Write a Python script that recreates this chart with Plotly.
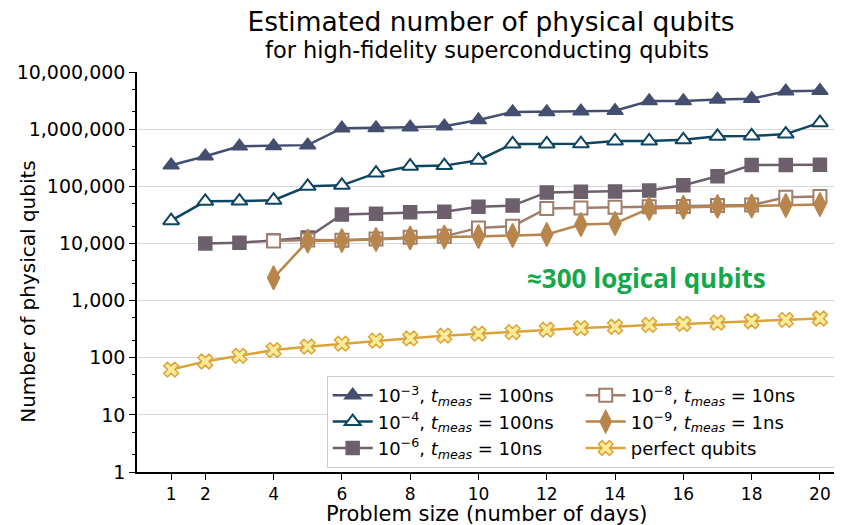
import plotly.graph_objects as go
import math

days = list(range(1, 21))

e3_100ns = [234000, 336000, 500000, 505000, 525000, 1040000, 1050000, 1080000, 1120000, 1440000,
            2000000, 2000000, 2050000, 2100000, 3100000, 3100000, 3300000, 3400000, 4600000, 4700000]
e4_100ns = [25000, 54600, 55000, 57000, 100000, 104000, 170000, 225000, 230000, 286000,
            550000, 550000, 555000, 620000, 620000, 650000, 750000, 760000, 820000, 1300000]
days_e6 = list(range(2, 21))
e6_10ns = [10000, 10300, 11300, 12700, 32000, 33000, 35000, 36000, 44000, 46000,
           78000, 80000, 81000, 84000, 104000, 150000, 235000, 235000, 237000]
days_e8 = list(range(4, 21))
e8_10ns = [11000, 11500, 11400, 12000, 12800, 13300, 18700, 20000, 41000, 41500,
           43000, 44000, 44500, 46000, 47000, 64000, 66000]
e9_1ns = [2500, 11000, 11200, 11700, 12500, 13000, 13200, 13800, 14300, 21500,
          22400, 41000, 43000, 44500, 45000, 46000, 48000]
perfect = [62, 86, 108, 136, 156, 176, 199, 218, 243, 264,
           280, 310, 330, 348, 375, 390, 410, 435, 460, 485]

ytick_vals = [1, 10, 100, 1000, 10000, 100000, 1000000, 10000000]
ytick_text = ["1", "10", "100", "1,000", "10,000", "100,000", "1,000,000", "10,000,000"]
xtick_vals = [1, 2, 4, 6, 8, 10, 12, 14, 16, 18, 20]

names = [
    "10<sup>−3</sup>, <i>t</i><sub><i>meas</i></sub> = 100ns",
    "10<sup>−4</sup>, <i>t</i><sub><i>meas</i></sub> = 100ns",
    "10<sup>−6</sup>, <i>t</i><sub><i>meas</i></sub> = 10ns",
    "10<sup>−8</sup>, <i>t</i><sub><i>meas</i></sub> = 10ns",
    "10<sup>−9</sup>, <i>t</i><sub><i>meas</i></sub> = 1ns",
    "perfect qubits",
]

fig = go.Figure()

def add(x, y, name, color, symbol, size, fill, rank, lw=1.5):
    fig.add_trace(go.Scatter(
        x=x, y=y, name=name, mode="lines+markers",
        line=dict(color=color, width=2.5),
        marker=dict(symbol=symbol, size=size, color=fill, line=dict(color=color, width=lw)),
        legendrank=rank,
    ))

add(days, e3_100ns, names[0], "#444f70", "triangle-up", 14, "#444f70", 1)
add(days, e4_100ns, names[1], "#0e4560", "triangle-up", 14, "white", 3, lw=2)
add(days_e6, e6_10ns, names[2], "#6e5f6d", "square", 13, "#6e5f6d", 5)
add(days_e8, e8_10ns, names[3], "#a07e6c", "square", 13, "white", 2, lw=2)
add(days_e8, e9_1ns, names[4], "#b8864c", "diamond-tall", 17, "#b8864c", 4)
add(days, perfect, names[5], "#dba438", "x", 13, "#f9eb9a", 6, lw=1.5)

# highlight ellipse around day 16 of perfect qubits
hx = days[15]
hy = math.log10(perfect[15])
fig.add_shape(type="circle", xref="x", yref="y",
              x0=hx - 0.42, x1=hx + 0.42, y0=hy - 0.33, y1=hy + 0.33,
              fillcolor="rgba(255,196,50,0.85)", line=dict(color="#e8141c", width=2),
              layer="above")

fig.add_annotation(x=14.93, y=3.40, xref="x", yref="y", text="<b>≈300 logical qubits</b>",
                   showarrow=False, font=dict(family="Open Sans", size=26, color="#14a84b"))

fig.add_annotation(x=0.5, y=1.055, xref="paper", yref="paper", xanchor="center", yanchor="middle",
                   text="for high-fidelity superconducting qubits", showarrow=False,
                   font=dict(family="DejaVu Sans", size=22.5, color="black"))

fig.add_annotation(x=-0.156, y=0.4525, xref="paper", yref="paper", xanchor="center", yanchor="middle",
                   text="Number of physical qubits", textangle=-90, showarrow=False,
                   font=dict(family="DejaVu Sans", size=20, color="black"))

fig.add_annotation(x=0.4986, y=-0.104, xref="paper", yref="paper", xanchor="center", yanchor="middle",
                   text="Problem size (number of days)", showarrow=False,
                   font=dict(family="DejaVu Sans", size=21, color="black"))

# page body adds an 8px offset; figure is sized/margined to compensate
fig.update_layout(
    width=834, height=517,
    margin=dict(l=129, r=5, t=64, b=53),
    paper_bgcolor="white", plot_bgcolor="white",
    font=dict(family="DejaVu Sans", color="black"),
    title=dict(text="Estimated number of physical qubits", x=483 / 834, xanchor="center",
               y=1 - 13.5 / 517, yanchor="middle", font=dict(size=26.5, color="black"),
               automargin=False),
    showlegend=True,
    legend=dict(orientation="h", x=0.271, xanchor="left", y=0.01, yanchor="bottom",
                bgcolor="white", bordercolor="#cccccc", borderwidth=1,
                font=dict(size=18, family="DejaVu Sans"),
                entrywidth=198, entrywidthmode="pixels", tracegroupgap=0,
                itemwidth=40),
)

fig.update_xaxes(range=[0, 20.5], tickvals=xtick_vals, ticks="outside", ticklen=6,
                 tickcolor="black", tickwidth=1.2, showgrid=False, zeroline=False,
                 showline=True, linecolor="black", linewidth=1.5, automargin=False,
                 tickfont=dict(size=17))
fig.update_yaxes(type="log", range=[0, 7], tickvals=ytick_vals, ticktext=ytick_text,
                 ticks="outside", ticklen=6, tickcolor="black", tickwidth=1.2,
                 showgrid=True, gridcolor="#d6d6d6", gridwidth=1, zeroline=False,
                 showline=True, linecolor="black", linewidth=1.5, automargin=False,
                 tickfont=dict(size=19),
                 minor=dict(ticks="outside", ticklen=3, tickcolor="black", tickwidth=0.8,
                            showgrid=False))

fig.write_html("out.html")
